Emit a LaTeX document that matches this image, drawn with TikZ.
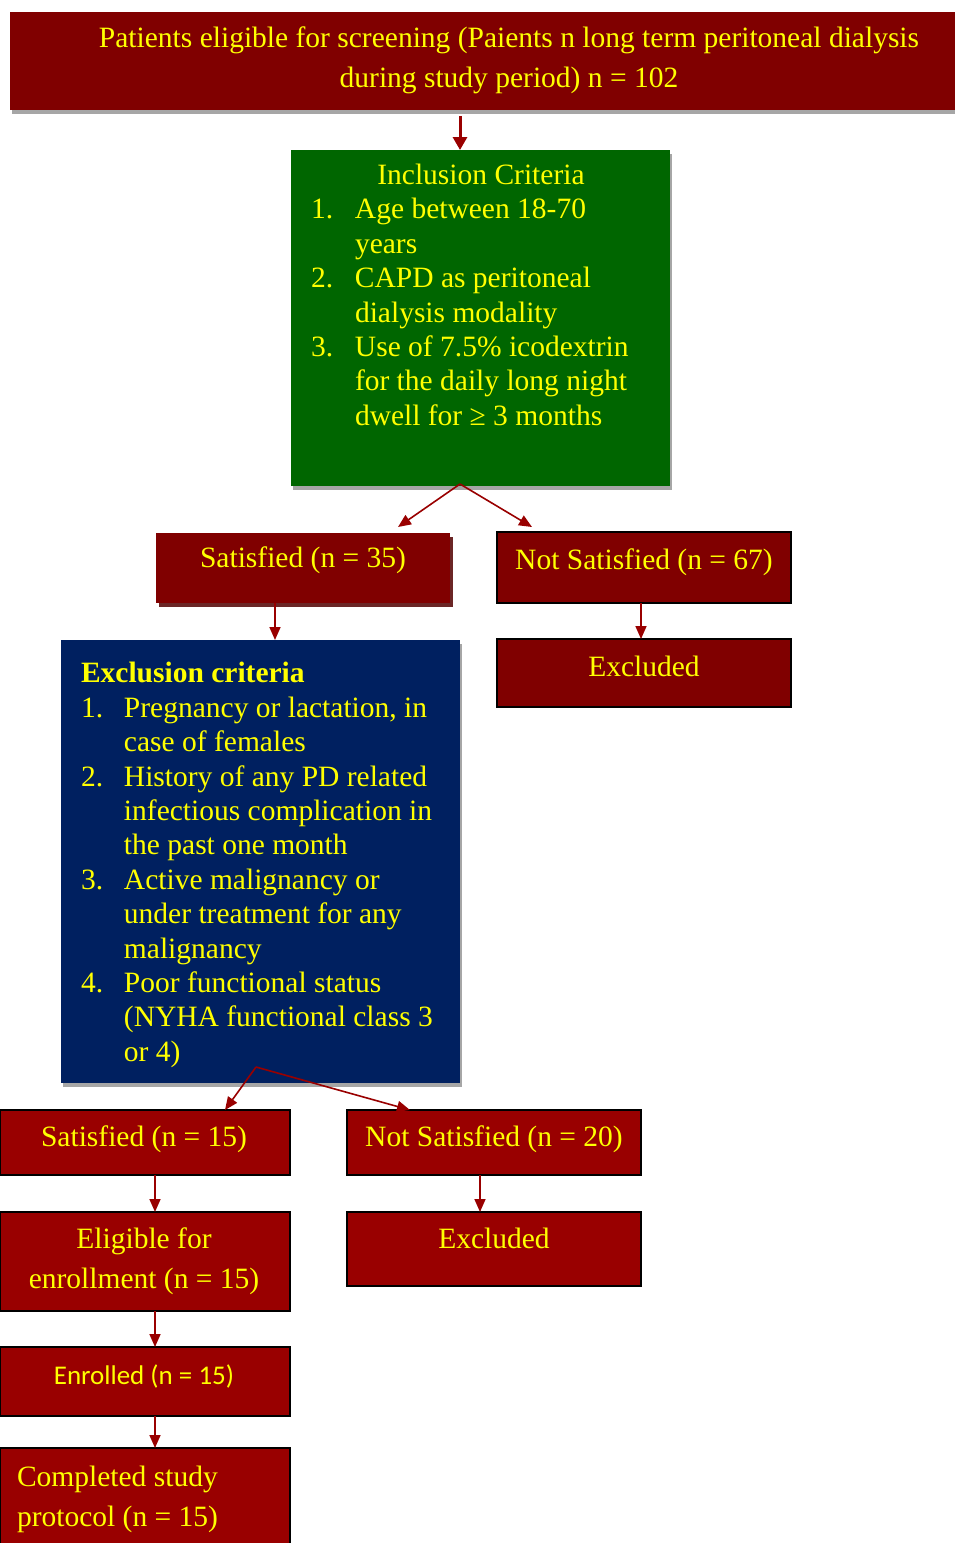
\documentclass[tikz,border=0pt]{standalone}
\usepackage{fontspec}
\setmainfont{Liberation Serif}
\newfontfamily\calfont{Carlito}
\usetikzlibrary{arrows.meta,calc,shadows}
\definecolor{maroonbox}{HTML}{800000}
\definecolor{redbox}{HTML}{990000}
\definecolor{greenbox}{HTML}{006600}
\definecolor{bluebox}{HTML}{002060}
\definecolor{txtc}{HTML}{FFFF00}
\definecolor{arrowc}{HTML}{990000}
\definecolor{shadowg}{HTML}{A6A6A6}
\definecolor{shadowr}{HTML}{6B2626}
\begin{document}
\begin{tikzpicture}[x=1pt,y=-1pt,
  box/.style={rectangle, inner sep=0pt, outer sep=0pt, anchor=north west},
  bordered/.style={box, draw=black, line width=1.5pt},
  gshadow/.style={drop shadow={shadow xshift=2pt, shadow yshift=-4pt, fill=shadowg, opacity=1}},
  rshadow/.style={drop shadow={shadow xshift=3pt, shadow yshift=-4pt, fill=shadowr, opacity=1}},
  txtb/.style={inner sep=0pt, outer sep=0pt, text=txtc, font=\fontsize{29.5}{34.4}\selectfont},
  txtw/.style={inner sep=0pt, outer sep=0pt, text=txtc, font=\fontsize{29.5}{40}\selectfont},
  arr/.style={draw=arrowc, line width=1.6pt, -{Triangle[length=13pt,width=11pt]}},
  toparr/.style={draw=arrowc, line width=3pt, -{Triangle[length=13pt,width=14pt]}}]
\useasboundingbox (0,0) rectangle (955,1543);

% boxes
\node[box, fill=maroonbox, gshadow, minimum width=945pt, minimum height=98pt] (top) at (10,12) {};
\node[box, fill=greenbox, gshadow, minimum width=379pt, minimum height=336pt] (green) at (291,150) {};
\node[box, fill=maroonbox, rshadow, minimum width=294pt, minimum height=70pt] (sat35) at (156,533) {};
\node[bordered, fill=maroonbox, minimum width=294pt, minimum height=71pt] (ns67) at (497,532) {};
\node[bordered, fill=maroonbox, minimum width=294pt, minimum height=68pt] (ex1) at (497,639) {};
\node[box, fill=bluebox, gshadow, minimum width=399pt, minimum height=443pt] (blue) at (61,640) {};
\node[bordered, fill=redbox, minimum width=290pt, minimum height=65pt] (sat15) at (0,1110) {};
\node[bordered, fill=redbox, minimum width=294pt, minimum height=65pt] (ns20) at (347,1110) {};
\node[bordered, fill=redbox, minimum width=290pt, minimum height=99pt] (elig) at (0,1212) {};
\node[bordered, fill=redbox, minimum width=294pt, minimum height=74pt] (ex2) at (347,1212) {};
\node[bordered, fill=redbox, minimum width=290pt, minimum height=69pt] (enr) at (0,1347) {};
\node[bordered, fill=redbox, minimum width=290pt, minimum height=110pt] (comp) at (0,1448) {};

% texts
\node[txtw, align=center, anchor=north] (ttop) at (509,19)
  {\strut Patients eligible for screening (Paients n long term peritoneal dialysis\\
   \strut during study period) n = 102};
\node[txtb, anchor=base] (tinc) at (481,184) {Inclusion Criteria};
\node[txtb, align=left, anchor=north west] (tinclist) at (311,194.9)
  {\strut\makebox[44pt][l]{1.}Age between 18-70\\
   \strut\makebox[44pt]{}years\\
   \strut\makebox[44pt][l]{2.}CAPD as peritoneal\\
   \strut\makebox[44pt]{}dialysis modality\\
   \strut\makebox[44pt][l]{3.}Use of 7.5\% icodextrin\\
   \strut\makebox[44pt]{}for the daily long night\\
   \strut\makebox[44pt]{}dwell for ≥ 3 months};
\node[txtb, anchor=base] (tsat35) at (303,567) {Satisfied (n = 35)};
\node[txtb, anchor=base] (tns67) at (644,569) {Not Satisfied (n = 67)};
\node[txtb, anchor=base] (tex1) at (644,676) {Excluded};
\node[txtb, align=left, anchor=north west] (texc) at (81,658.9)
  {\strut\textbf{Exclusion criteria}\\
   \strut\makebox[43pt][l]{1.}Pregnancy or lactation, in\\
   \strut\makebox[43pt]{}case of females\\
   \strut\makebox[43pt][l]{2.}History of any PD related\\
   \strut\makebox[43pt]{}infectious complication in\\
   \strut\makebox[43pt]{}the past one month\\
   \strut\makebox[43pt][l]{3.}Active malignancy or\\
   \strut\makebox[43pt]{}under treatment for any\\
   \strut\makebox[43pt]{}malignancy\\
   \strut\makebox[43pt][l]{4.}Poor functional status\\
   \strut\makebox[43pt]{}(NYHA functional class 3\\
   \strut\makebox[43pt]{}or 4)};
\node[txtb, anchor=base] (tsat15) at (144,1146) {Satisfied (n = 15)};
\node[txtb, anchor=base] (tns20) at (494,1146) {Not Satisfied (n = 20)};
\node[txtw, align=center, anchor=north] (telig) at (144,1220)
  {\strut Eligible for\\ \strut enrollment (n = 15)};
\node[txtb, anchor=base] (tex2) at (494,1248) {Excluded};
\node[inner sep=0pt, text=txtc, font=\calfont\fontsize{27}{32}\selectfont, anchor=base] (tenr) at (144,1384) {Enrolled (n = 15)};
\node[txtw, align=left, anchor=north west] (tcomp) at (17,1458)
  {\strut Completed study\\ \strut protocol (n = 15)};

% connectors
\coordinate (ax) at (460,0);
\coordinate (bx) at (275,0);
\coordinate (cx) at (641,0);
\coordinate (dx) at (155,0);
\coordinate (ex) at (480,0);
\coordinate (gsplit) at (460,484);
\coordinate (bsplit) at (256,1067);
\draw[toparr] ([yshift=-6pt]top.south -| ax) -- (green.north -| ax);
\draw[arr] (gsplit) -- ([shift={(242,-6)}]sat35.north west);
\draw[arr] (gsplit) -- ([shift={(35,-5)}]ns67.north west);
\draw[arr] (sat35.south -| bx) -- (blue.north -| bx);
\draw[arr] (ns67.south -| cx) -- (ex1.north -| cx);
\draw[arr] (bsplit) -- ([shift={(225,0)}]sat15.north west);
\draw[arr] (bsplit) -- ([shift={(63,0)}]ns20.north west);
\draw[arr] (sat15.south -| dx) -- (elig.north -| dx);
\draw[arr] (ns20.south -| ex) -- (ex2.north -| ex);
\draw[arr] (elig.south -| dx) -- (enr.north -| dx);
\draw[arr] (enr.south -| dx) -- (comp.north -| dx);
\end{tikzpicture}
\end{document}
